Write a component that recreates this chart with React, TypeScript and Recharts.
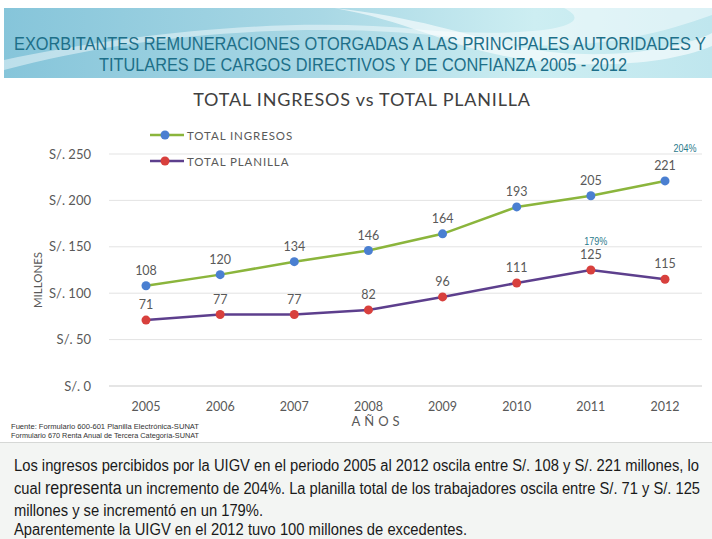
import React from "react";
import {
  LineChart,
  Line,
  XAxis,
  YAxis,
  CartesianGrid,
  LabelList,
  ReferenceDot,
} from "recharts";

const YEARS = ["2005", "2006", "2007", "2008", "2009", "2010", "2011", "2012"];
const TOTAL_INGRESOS = [108, 120, 134, 146, 164, 193, 205, 221];
const TOTAL_PLANILLA = [71, 77, 77, 82, 96, 111, 125, 115];
const Y_TICKS = [0, 50, 100, 150, 200, 250];

const SERIES = [
  { key: "ingresos", name: "TOTAL INGRESOS", line: "#8bb53c", dot: "#4a7fd1" },
  { key: "planilla", name: "TOTAL PLANILLA", line: "#5d3f8d", dot: "#d8403d" },
];

// growth notes next to the last points
const NOTES = [
  { year: "2012", value: 221, text: "204%", dx: 20, dy: -33 },
  { year: "2011", value: 125, text: "179%", dx: 5, dy: -29 },
];

const HEADER_LINES = [
  "EXORBITANTES REMUNERACIONES OTORGADAS A LAS PRINCIPALES AUTORIDADES Y",
  "TITULARES DE CARGOS DIRECTIVOS Y DE CONFIANZA 2005 - 2012",
];

const SOURCE_LINES = [
  "Fuente: Formulario 600-601  Planilla  Electrónica-SUNAT",
  "Formulario 670 Renta Anual de Tercera  Categoría-SUNAT",
];

const NOTE_LINES = [
  "Los ingresos percibidos por la UIGV en el periodo 2005 al 2012 oscila entre S/. 108 y S/. 221 millones, lo",
  "un incremento de 204%. La planilla total de los trabajadores oscila entre S/. 71 y S/. 125",
  "millones y se incrementó en un 179%.",
  "Aparentemente la UIGV en el 2012 tuvo 100 millones de excedentes.",
];

const data = YEARS.map((y, i) => ({
  year: y,
  ingresos: TOTAL_INGRESOS[i],
  planilla: TOTAL_PLANILLA[i],
}));

const FONT = "Lato, 'Open Sans', sans-serif";
const SANS = "'Liberation Sans', Arial, sans-serif";

// narrow-looking text: smaller font stretched up, then fitted to the width
function NarrowText(props: { x: number; y: number; width: number; size: number; stretch: number; fill: string; children: React.ReactNode }) {
  const { x, y, width, size, stretch, fill, children } = props;
  return (
    <g transform={`translate(${x}, ${y}) scale(1, ${stretch})`}>
      <text x={0} y={0} textLength={width} lengthAdjust="spacingAndGlyphs" fontFamily={SANS} fontSize={size} fill={fill}>
        {children}
      </text>
    </g>
  );
}

export default function App() {
  return (
    <div
      style={{
        position: "absolute",
        left: 0,
        top: 0,
        width: 712,
        height: 539,
        background: "#fff",
        overflow: "hidden",
        fontFamily: FONT,
      }}
    >
      {/* header band */}
      <svg width={708} height={70} style={{ position: "absolute", left: 4, top: 8 }}>
        <defs>
          <linearGradient id="hdr" x1="0" y1="0" x2="1" y2="0">
            <stop offset="0" stopColor="#86c5da" />
            <stop offset="0.45" stopColor="#a9d8e5" />
            <stop offset="0.75" stopColor="#cdeef2" />
            <stop offset="1" stopColor="#bfe6ee" />
          </linearGradient>
        </defs>
        <rect width={708} height={70} fill="url(#hdr)" />
        <path d="M0,62 C150,22 330,12 470,32 C560,46 640,32 708,7 L708,0 L560,0 C600,20 520,30 420,22 C280,7 120,27 0,52 Z" fill="#ffffff" opacity={0.45} />
        <path d="M330,0 C420,10 470,30 520,40 C600,55 680,40 708,25 L708,38 C660,58 580,62 500,48 C440,36 400,12 330,0 Z" fill="#ffffff" opacity={0.6} />
        <NarrowText x={10} y={42} width={692} size={16.5} stretch={1.15} fill="#1d6f89">
          {HEADER_LINES[0]}
        </NarrowText>
        <NarrowText x={95} y={63} width={528} size={16.5} stretch={1.15} fill="#1d6f89">
          {HEADER_LINES[1]}
        </NarrowText>
      </svg>

      {/* chart title */}
      <div
        style={{
          position: "absolute",
          left: 0,
          width: 724,
          top: 88,
          textAlign: "center",
          fontSize: 18,
          color: "#404040",
          letterSpacing: 0.8,
        }}
      >
        TOTAL INGRESOS vs TOTAL PLANILLA
      </div>

      {/* legend */}
      {SERIES.map((s, i) => (
        <div key={s.key} style={{ position: "absolute", left: 150, top: 128 + i * 26, height: 14, display: "flex", alignItems: "center" }}>
          <svg width={34} height={14}>
            <line x1={0} y1={7} x2={34} y2={7} stroke={s.line} strokeWidth={2.5} />
            <circle cx={15} cy={7} r={4.5} fill={s.dot} />
          </svg>
          <span style={{ marginLeft: 3, fontSize: 11.5, color: "#595959", letterSpacing: 0.9 }}>{s.name}</span>
        </div>
      ))}

      <div style={{ position: "absolute", left: 0, top: 80 }}>
        <LineChart width={712} height={360} data={data} margin={{ top: 74, right: 10, bottom: 24, left: 30 }}>
          <CartesianGrid vertical={false} stroke="#e3e3e3" />
          <XAxis
            dataKey="year"
            height={30}
            padding={{ left: 37, right: 37 }}
            axisLine={{ stroke: "#d9d9d9" }}
            tickLine={false}
            tickMargin={10}
            tick={{ fill: "#595959", fontSize: 12.5, fontFamily: FONT }}
            label={({ viewBox }: any) => (
              <text
                x={viewBox.x + viewBox.width / 2 - 28}
                y={viewBox.y + 40}
                textAnchor="middle"
                fill="#595959"
                fontSize={13}
                fontFamily={FONT}
                letterSpacing={4}
              >
                AÑOS
              </text>
            )}
          />
          <YAxis
            width={79}
            domain={[0, 250]}
            ticks={Y_TICKS}
            axisLine={false}
            tickLine={false}
            tickMargin={12}
            tickFormatter={(v) => `S/. ${v}`}
            tick={{ fill: "#595959", fontSize: 13, fontFamily: FONT }}
            label={({ viewBox }: any) => {
              const x = viewBox.x + 7;
              const y = viewBox.y + viewBox.height / 2 + 10;
              return (
                <text
                  x={x}
                  y={y}
                  transform={`rotate(-90, ${x}, ${y})`}
                  textAnchor="middle"
                  dominantBaseline="central"
                  fill="#595959"
                  fontSize={11.5}
                  fontFamily={FONT}
                >
                  MILLONES
                </text>
              );
            }}
          />
          {SERIES.map((s) => (
            <Line
              key={s.key}
              dataKey={s.key}
              name={s.name}
              type="linear"
              stroke={s.line}
              strokeWidth={2.5}
              dot={{ r: 4.5, fill: s.dot, stroke: "none" }}
              activeDot={false}
              isAnimationActive={false}
            >
              <LabelList dataKey={s.key} position="top" offset={11} fill="#595959" fontSize={12.5} fontFamily={FONT} />
            </Line>
          ))}
          {NOTES.map((n) => (
            <ReferenceDot
              key={n.text}
              x={n.year}
              y={n.value}
              r={0}
              stroke="none"
              label={({ viewBox }: any) => {
                const cx = viewBox.x + viewBox.width / 2 + n.dx;
                return (
                  <text
                    x={cx}
                    y={viewBox.y + viewBox.height / 2 + n.dy}
                    textAnchor="middle"
                    dominantBaseline="central"
                    fill="#2b7a8c"
                    fontSize={11}
                    fontFamily={SANS}
                    transform={`translate(${cx}, 0) scale(0.82, 1) translate(${-cx}, 0)`}
                  >
                    {n.text}
                  </text>
                );
              }}
            />
          ))}
        </LineChart>
      </div>

      {/* source */}
      <svg width={230} height={22} style={{ position: "absolute", left: 0, top: 420 }}>
        {SOURCE_LINES.map((t, i) => (
          <text
            key={i}
            x={11}
            y={9 + i * 9}
            textLength={188}
            lengthAdjust="spacingAndGlyphs"
            fontFamily={SANS}
            fontSize={7.5}
            fill="#333"
          >
            {t}
          </text>
        ))}
      </svg>

      {/* bottom note */}
      <div
        style={{
          position: "absolute",
          left: 0,
          top: 442,
          width: 712,
          height: 97,
          background: "#f3f5f3",
          borderTop: "1px solid #d6d8d6",
        }}
      >
        <svg width={712} height={97} style={{ position: "absolute", left: 0, top: 0 }}>
          <NarrowText x={14} y={28} width={685} size={14.2} stretch={1.13} fill="#1a1a1a">
            {NOTE_LINES[0]}
          </NarrowText>
          <NarrowText x={14} y={51} width={686} size={14.2} stretch={1.13} fill="#1a1a1a">
            cual <tspan fontSize={15.5}>representa</tspan> {NOTE_LINES[1]}
          </NarrowText>
          <NarrowText x={14} y={73} width={249} size={14.2} stretch={1.13} fill="#1a1a1a">
            {NOTE_LINES[2]}
          </NarrowText>
          <NarrowText x={14} y={92} width={453} size={14.2} stretch={1.13} fill="#1a1a1a">
            {NOTE_LINES[3]}
          </NarrowText>
        </svg>
      </div>
    </div>
  );
}
